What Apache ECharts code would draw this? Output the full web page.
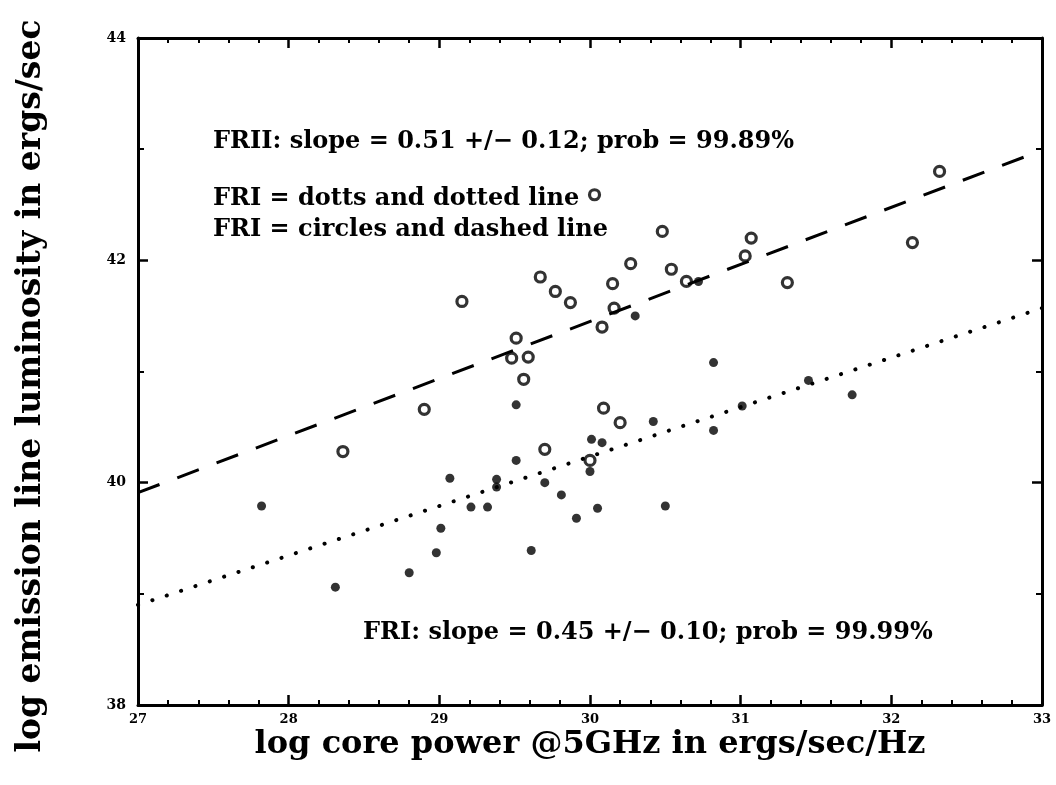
<!DOCTYPE html>
<html>
<head>
<meta charset="utf-8">
<script src="https://cdn.jsdelivr.net/npm/echarts@6/dist/echarts.min.js"></script>
<style>html,body{margin:0;padding:0;background:#fff;}#c{width:1056px;height:785px;}</style>
</head>
<body>
<div id="c"></div>
<script>
// FRII: open circles (log core power, log emission line luminosity)
const friiPoints = [
  [28.36, 40.28], [28.90, 40.66], [29.15, 41.63], [29.51, 41.30], [29.48, 41.12],
  [29.59, 41.13], [29.56, 40.93], [29.67, 41.85], [29.77, 41.72], [29.87, 41.62],
  [29.70, 40.30], [30.00, 40.20], [30.03, 42.59], [30.08, 41.40], [30.09, 40.67],
  [30.15, 41.79], [30.16, 41.57], [30.20, 40.54], [30.27, 41.97], [30.48, 42.26],
  [30.54, 41.92], [30.64, 41.81], [31.03, 42.04], [31.07, 42.20], [31.31, 41.80],
  [32.14, 42.16], [32.32, 42.80]
];
// FRI: filled dots
const friPoints = [
  [27.82, 39.79], [28.31, 39.06], [28.80, 39.19], [28.98, 39.37], [29.01, 39.59],
  [29.07, 40.04], [29.21, 39.78], [29.32, 39.78], [29.38, 40.03], [29.38, 39.96],
  [29.51, 40.20], [29.51, 40.70], [29.61, 39.39], [29.70, 40.00], [29.81, 39.89],
  [29.91, 39.68], [30.00, 40.10], [30.01, 40.39], [30.08, 40.36], [30.05, 39.77],
  [30.30, 41.50], [30.42, 40.55], [30.50, 39.79], [30.72, 41.81], [30.82, 41.08],
  [30.82, 40.47], [31.01, 40.69], [31.45, 40.92], [31.74, 40.79]
];
// fitted lines (endpoints at axis limits)
const friiFit = [[27, 39.91], [33, 42.99]];
const friFit = [[27, 38.90], [33, 41.57]];
// axis ranges / ticks
const xRange = [27, 33];
const yRange = [38, 44];
const texts = {
  frii: 'FRII: slope = 0.51 +/\u2212 0.12; prob = 99.89%',
  fri: 'FRI: slope = 0.45 +/\u2212 0.10; prob = 99.99%',
  leg1: 'FRI = dotts and dotted line',
  leg2: 'FRI = circles and dashed line',
  xTitle: 'log core power @5GHz in ergs/sec/Hz',
  yTitle: 'log emission line luminosity in ergs/sec'
};

const FONT = 'DejaVu Serif';
const chart = echarts.init(document.getElementById('c'), null, {renderer: 'canvas'});
const axLine = {show: true, lineStyle: {color: '#000', width: 3}};
const tickStyle = {show: true, inside: true, length: 10, lineStyle: {color: '#000', width: 2.5}};
const minorStyle = {show: true, splitNumber: 5, length: 5, lineStyle: {color: '#000', width: 2}};
const yMinor = {show: true, splitNumber: 2, length: 6, lineStyle: {color: '#000', width: 2}};
const txt = (s, x, y, size, extra) => ({
  type: 'text', x: x, y: y, silent: true,
  style: Object.assign({text: s, fontFamily: FONT, fontWeight: 'bold', fontSize: size, fill: '#000',
    verticalAlign: 'middle', align: 'left'}, extra || {})
});

chart.setOption({
  animation: false,
  backgroundColor: '#fff',
  grid: {left: 138, right: 14, top: 38, bottom: 80, containLabel: false},
  xAxis: [{
    type: 'value', min: xRange[0], max: xRange[1], interval: 1,
    axisLine: axLine, axisTick: tickStyle, minorTick: minorStyle,
    splitLine: {show: false},
    axisLabel: {color: '#000', fontFamily: FONT, fontWeight: 'bold', fontSize: 13, margin: 8}
  }, {
    type: 'value', position: 'top', min: xRange[0], max: xRange[1], interval: 1,
    axisLine: axLine, axisTick: tickStyle, minorTick: minorStyle,
    splitLine: {show: false}, axisLabel: {show: false}
  }],
  yAxis: [{
    type: 'value', min: yRange[0], max: yRange[1], interval: 2,
    axisLine: axLine, axisTick: tickStyle, minorTick: yMinor,
    splitLine: {show: false},
    axisLabel: {color: '#000', fontFamily: FONT, fontWeight: 'bold', fontSize: 14, margin: 12}
  }, {
    type: 'value', position: 'right', min: yRange[0], max: yRange[1], interval: 2,
    axisLine: axLine, axisTick: tickStyle, minorTick: yMinor,
    splitLine: {show: false}, axisLabel: {show: false}
  }],
  series: [{
    name: 'FRII fit', type: 'line', data: friiFit, symbol: 'none', silent: true,
    lineStyle: {color: '#000', width: 3, type: [23, 19]}
  }, {
    name: 'FRI fit', type: 'line', data: friFit, symbol: 'none', silent: true,
    lineStyle: {color: '#000', width: 4, type: [0.1, 15], cap: 'round'}
  }, {
    name: 'FRII', type: 'scatter', data: friiPoints, symbol: 'circle', symbolSize: 10,
    itemStyle: {color: '#fff', borderColor: '#000', borderWidth: 3.2}
  }, {
    name: 'FRI', type: 'scatter', data: friPoints, symbol: 'circle', symbolSize: 9,
    itemStyle: {color: '#000'}
  }],
  graphic: [
    txt(texts.frii, 213, 142, 24),
    txt(texts.leg1, 213, 199, 24),
    txt(texts.leg2, 213, 230, 24),
    txt(texts.fri, 363, 633, 24),
    txt(texts.xTitle, 590, 745, 32, {align: 'center'}),
    {type: 'text', x: 31, y: 386, rotation: Math.PI / 2, silent: true,
     style: {text: texts.yTitle, fontFamily: FONT, fontWeight: 'bold', fontSize: 33, fill: '#000',
       align: 'center', verticalAlign: 'middle'}}
  ]
});
</script>
</body>
</html>
